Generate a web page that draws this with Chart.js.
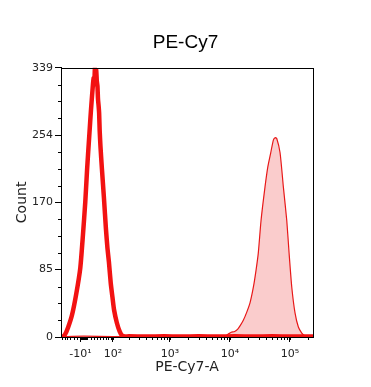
<!DOCTYPE html>
<html>
<head>
<meta charset="utf-8">
<script src="https://cdn.jsdelivr.net/npm/chart.js@4.4.1/dist/chart.umd.min.js"></script>
<style>
  html, body { margin: 0; padding: 0; background: #fff; }
  #wrap { width: 371px; height: 387px; position: relative; }
</style>
</head>
<body>
<div id="wrap"><canvas id="histChart"></canvas></div>
<script>
// unstained control (thick outline, no fill)
const unstainedX = [-74, -70, -59, -48, -35, -22, -10.5, -3, 3.7, 9, 15.2, 20, 25.2, 28, 30, 32, 34, 36, 38, 40, 41.7, 44, 45.5, 47.3, 50, 55, 62.6, 70, 76, 82.2, 90, 98, 105.8, 120, 136, 150, 170, 200, 400, 800, 1500, 3000, 6000, 12000, 25000, 50000, 100000, 242000];
const unstainedCount = [0, 0, 3, 12, 28, 55, 87, 128, 170, 212, 254, 285, 314, 326, 318, 339, 332, 336, 322, 316, 300, 290, 282, 260, 240, 212, 174, 136, 112, 94, 68, 50, 34, 18, 7, 2, 0.5, 1, 0.5, 1, 0.5, 1, 0.5, 1, 0.5, 1, 0.5, 0.5];

// PE-Cy7 stained (thin outline, pink fill)
const stainedX = [-74, 0, 100, 1000, 5000, 8300, 9500, 10500, 12000, 13500, 15000, 16700, 19000, 21600, 24600, 27200, 29700, 33000, 38400, 42700, 47800, 52900, 56400, 60200, 68400, 77600, 88400, 96600, 107100, 121600, 138000, 157300, 175000, 200300, 242000];
const stainedCount = [0.5, 1, 0.5, 1, 1, 1, 4, 6, 7, 10, 15, 21, 31, 43, 63, 84, 106, 147, 189, 214, 232, 248, 251, 250, 232, 189, 147, 106, 63, 30, 12.6, 5, 2, 1, 0.5];

// axes
const xMajorTicks = [-10, 100, 1000, 10000, 100000];
const xTickLabels = ['-10\u00b9', '10\u00b2', '10\u00b3', '10\u2074', '10\u2075'];
const yTicks = [0, 85, 170, 254, 339];
const xRange = [-74, 242000];
const yMax = 339;

// biexponential display transform
const biex = v => Math.asinh(v / 74) / Math.LN10;

// minor ticks of the x axis
const xMinorTicks = [];
for (let v = -70; v <= -20; v += 10) xMinorTicks.push(v);
for (let v = -9; v <= 9; v++) xMinorTicks.push(v);
for (let d = 10; d <= 100000; d *= 10) {
  for (let k = 1; k <= 9; k++) {
    if (d * k <= 200000) xMinorTicks.push(d * k);
  }
}
const yMinorTicks = [];
for (let k = 1; k < 16; k++) if (k % 4) yMinorTicks.push(yMax * k / 16);

const toPoints = (xs, ys) => xs.map((v, i) => ({ x: biex(v), y: ys[i] }));

const frame = {
  id: 'frame',
  afterDraw(chart) {
    const { ctx, chartArea: a, scales } = chart;
    ctx.save();
    ctx.strokeStyle = '#000';
    ctx.lineWidth = 1;
    ctx.beginPath();
    xMinorTicks.forEach(v => {
      const px = Math.round(scales.x.getPixelForValue(biex(v))) + 0.5;
      ctx.moveTo(px, a.bottom);
      ctx.lineTo(px, a.bottom + 3);
    });
    yMinorTicks.forEach(v => {
      const py = Math.round(scales.y.getPixelForValue(v)) + 0.5;
      ctx.moveTo(a.left, py);
      ctx.lineTo(a.left - 3, py);
    });
    ctx.stroke();
    ctx.strokeRect(Math.round(a.left) + 0.5, Math.round(a.top) + 0.5,
      Math.round(a.right - a.left), Math.round(a.bottom - a.top));
    ctx.restore();
  }
};

new Chart(document.getElementById('histChart'), {
  type: 'line',
  data: {
    datasets: [
      {
        label: 'Unstained',
        data: toPoints(unstainedX, unstainedCount),
        borderColor: '#f21212',
        borderWidth: 4.5,
        borderJoinStyle: 'round',
        fill: false,
        pointRadius: 0,
        tension: 0.2,
        clip: 0,
      },
      {
        label: 'PE-Cy7',
        data: toPoints(stainedX, stainedCount),
        borderColor: '#e81818',
        borderWidth: 1.2,
        backgroundColor: 'rgba(230, 0, 0, 0.2)',
        fill: 'origin',
        pointRadius: 0,
        tension: 0.2,
        clip: 0,
      },
    ],
  },
  options: {
    responsive: true,
    maintainAspectRatio: false,
    animation: false,
    layout: { padding: 0 },
    plugins: {
      legend: { display: false },
      tooltip: { enabled: false },
      title: {
        display: true,
        text: 'PE-Cy7',
        color: '#000',
        font: { family: 'Liberation Sans', size: 19, weight: 'normal' },
        padding: { top: 31, bottom: 14 },
      },
    },
    scales: {
      x: {
        type: 'linear',
        min: biex(xRange[0]),
        max: biex(xRange[1]),
        afterBuildTicks: s => { s.ticks = xMajorTicks.map(v => ({ value: biex(v) })); },
        afterFit: s => { s.height = 50; },
        ticks: {
          autoSkip: false,
          maxRotation: 0,
          padding: 6,
          color: '#222',
          font: { family: 'DejaVu Sans', size: 11 },
          callback: (val, i) => xTickLabels[i],
        },
        grid: { drawOnChartArea: false, tickLength: 5, color: '#000' },
        border: { color: '#000', width: 1 },
        title: {
          display: true,
          text: 'PE-Cy7-A',
          color: '#222',
          font: { family: 'DejaVu Sans', size: 14 },
          padding: { top: 0, bottom: 11 },
        },
      },
      y: {
        min: 0,
        max: yMax,
        afterBuildTicks: s => { s.ticks = yTicks.map(v => ({ value: v })); },
        afterFit: s => { s.width = 61; },
        ticks: {
          autoSkip: false,
          padding: 2,
          color: '#222',
          font: { family: 'DejaVu Sans', size: 11 },
        },
        grid: { drawOnChartArea: false, tickLength: 6, color: '#000' },
        border: { color: '#000', width: 1 },
        title: {
          display: true,
          text: 'Count',
          color: '#222',
          font: { family: 'DejaVu Sans', size: 14 },
          padding: { top: 14, bottom: 0 },
        },
      },
      // empty right-hand margin so the title centres on the whole figure
      spacer: {
        position: 'right',
        min: 0,
        max: yMax,
        afterFit: s => { s.width = 58; },
        ticks: { display: false },
        grid: { display: false },
        border: { display: false },
      },
    },
  },
  plugins: [frame],
});
</script>
</body>
</html>
